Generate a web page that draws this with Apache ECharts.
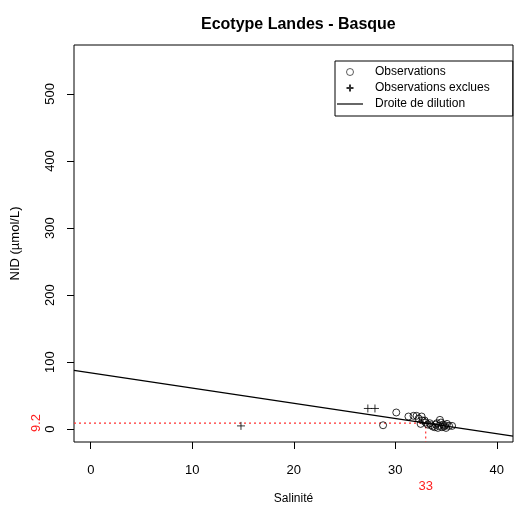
<!DOCTYPE html>
<html>
<head>
<meta charset="utf-8">
<script src="https://cdn.jsdelivr.net/npm/echarts@6/dist/echarts.min.js"></script>
<style>
  html, body { margin: 0; padding: 0; background: #fff; }
  #chart { width: 514px; height: 510px; }
</style>
</head>
<body>
<div id="chart"></div>
<script>
// values
var xTicks = [0, 10, 20, 30, 40];
var yTicks = [0, 100, 200, 300, 400, 500];
var xRange = [-1.65, 41.6];
var yRange = [-19, 573];

var observations = [
    [28.8, 6], [30.1, 25], [31.3, 19], [31.8, 20], [32.1, 20], [32.3, 16],
    [32.6, 19], [32.7, 13], [32.5, 8], [33.0, 10], [33.2, 7], [33.5, 6],
    [33.7, 4], [33.9, 3], [34.0, 7], [34.2, 2], [34.3, 5], [34.4, 14],
    [34.5, 10], [34.6, 3], [34.7, 7], [34.8, 4], [34.9, 6], [35.0, 2],
    [35.1, 8], [35.3, 5], [35.6, 5], [34.1, 9], [33.4, 9], [32.9, 13]
];
var excluded = [[14.8, 5], [27.3, 31], [28.0, 31]];
var dilutionLine = [[-1.65, 87.7], [41.6, -10.3]];
var cutSalinity = 33;
var cutNID = 9.2;

var font = 'Liberation Sans, Arial, sans-serif';
var chart = echarts.init(document.getElementById('chart'));

chart.setOption({
    animation: false,
    backgroundColor: '#fff',
    title: {
        text: 'Ecotype Landes - Basque',
        left: 196, top: 12,
        textStyle: { fontFamily: font, fontSize: 16, fontWeight: 'bold', color: '#000' }
    },
    grid: {
        left: 74, right: 1, top: 45, bottom: 65,
        show: true, borderColor: '#000', borderWidth: 1, backgroundColor: 'transparent'
    },
    legend: {
        orient: 'vertical',
        left: 335, top: 61,
        padding: [4, 23, 5, 2],
        itemGap: 2,
        itemWidth: 26, itemHeight: 7,
        borderColor: '#000', borderWidth: 1, borderRadius: 0,
        backgroundColor: '#fff',
        textStyle: { fontFamily: font, fontSize: 12, color: '#000', lineHeight: 14, padding: [0, 0, 0, 7] },
        data: [
            { name: 'Observations', itemStyle: { borderWidth: 0.8 } },
            'Observations exclues',
            { name: 'Droite de dilution', icon: 'path://M0,0L26,0L26,1.2L0,1.2Z', itemStyle: { color: '#000' } }
        ]
    },
    xAxis: {
        type: 'value', min: xRange[0], max: xRange[1],
        name: 'Salinité', nameLocation: 'middle', nameGap: 51,
        nameTextStyle: { fontFamily: font, fontSize: 12, color: '#000' },
        axisLine: { show: false, onZero: false },
        axisTick: { show: true, length: 7, lineStyle: { color: '#000' }, customValues: xTicks },
        axisLabel: { fontFamily: font, fontSize: 13, color: '#000', margin: 22, customValues: xTicks },
        splitLine: { show: false }
    },
    yAxis: {
        type: 'value', min: yRange[0], max: yRange[1],
        name: 'NID (µmol/L)', nameLocation: 'middle', nameGap: 52,
        nameTextStyle: { fontFamily: font, fontSize: 13, color: '#000' },
        axisLine: { show: false, onZero: false },
        axisTick: { show: true, length: 7, lineStyle: { color: '#000' }, customValues: yTicks },
        axisLabel: { fontFamily: font, fontSize: 13, color: '#000', margin: 17, rotate: 90, customValues: yTicks },
        splitLine: { show: false }
    },
    series: [
        {
            name: 'Observations',
            type: 'scatter',
            symbol: 'circle',
            symbolSize: 7,
            itemStyle: { color: 'rgba(0,0,0,0)', borderColor: '#000', borderWidth: 1 },
            data: observations,
            z: 3
        },
        {
            name: 'Observations exclues',
            type: 'scatter',
            symbol: 'path://M5,0L5,10M0,5L10,5',
            symbolSize: 8,
            itemStyle: { color: 'rgba(0,0,0,0)', borderColor: '#000', borderWidth: 1 },
            data: excluded,
            z: 3
        },
        {
            name: 'Droite de dilution',
            type: 'line',
            symbol: 'none',
            itemStyle: { color: '#000' },
            lineStyle: { color: '#000', width: 1.2 },
            data: dilutionLine,
            z: 4
        },
        {
            name: 'seuil',
            type: 'line',
            symbol: 'none',
            lineStyle: { color: '#ff3030', width: 1.2, type: [2, 3] },
            data: [[xRange[0], cutNID], [cutSalinity, cutNID], [cutSalinity, yRange[0]]],
            z: 2
        }
    ]
});

// red labels for the cut-off, placed through the axes scales
var pX = chart.convertToPixel({ gridIndex: 0 }, [cutSalinity, cutNID]);
chart.setOption({
    graphic: [
        {
            type: 'text', x: pX[0], y: 486,
            style: { text: String(cutSalinity), fill: '#ff2020', font: '13px ' + font, align: 'center', verticalAlign: 'middle' }
        },
        {
            type: 'text', x: 36, y: pX[1], rotation: Math.PI / 2,
            style: { text: String(cutNID), fill: '#ff2020', font: '13px ' + font, align: 'center', verticalAlign: 'middle' }
        }
    ]
});
</script>
</body>
</html>
